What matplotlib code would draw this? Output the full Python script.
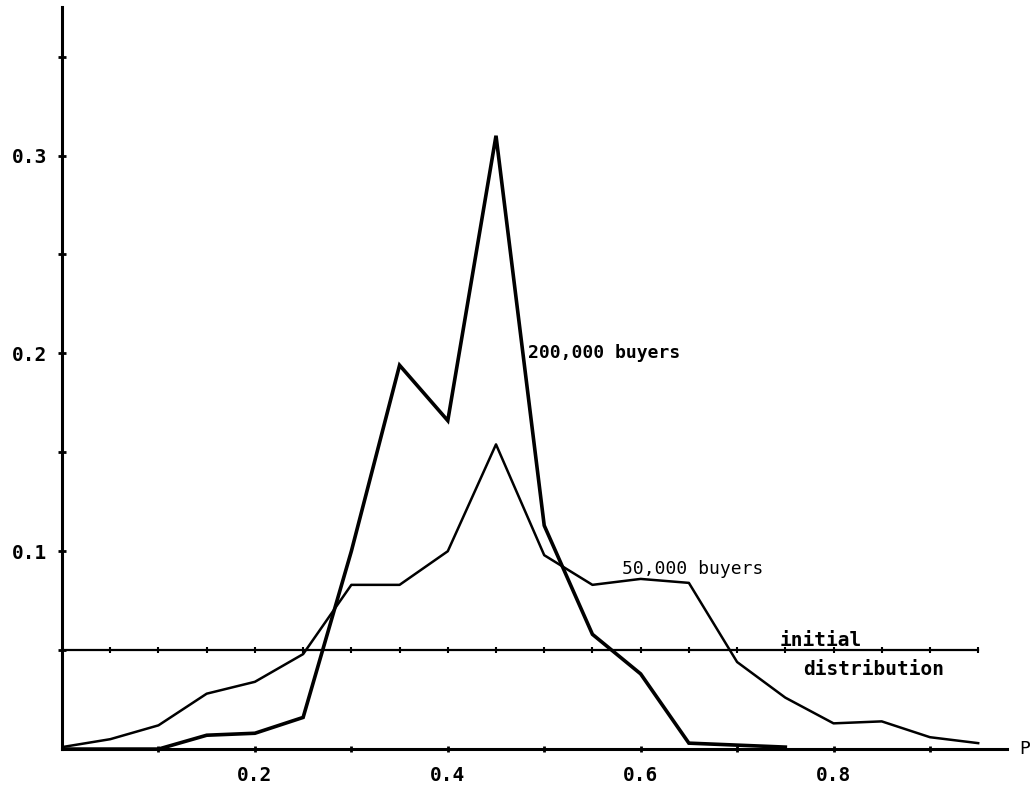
import matplotlib.pyplot as plt

# proportion of buyers p (grid of 0.05)
p_50k = [0.0, 0.05, 0.1, 0.15, 0.2, 0.25, 0.3, 0.35, 0.4, 0.45,
         0.5, 0.55, 0.6, 0.65, 0.7, 0.75, 0.8, 0.85, 0.9, 0.95]
buyers_50k = [0.001, 0.005, 0.012, 0.028, 0.034, 0.048, 0.083, 0.083, 0.100, 0.154,
              0.098, 0.083, 0.086, 0.084, 0.044, 0.026, 0.013, 0.014, 0.006, 0.003]

p_200k = [0.0, 0.05, 0.1, 0.15, 0.2, 0.25, 0.3, 0.35, 0.4, 0.45,
          0.5, 0.55, 0.6, 0.65, 0.7, 0.75]
buyers_200k = [0.0, 0.0, 0.0, 0.007, 0.008, 0.016, 0.100, 0.194, 0.166, 0.310,
               0.113, 0.058, 0.038, 0.003, 0.002, 0.001]

p_initial = p_50k
initial = [0.05, 0.05, 0.05, 0.05, 0.05, 0.05, 0.05, 0.05, 0.05, 0.05,
           0.05, 0.05, 0.05, 0.05, 0.05, 0.05, 0.05, 0.05, 0.05, 0.05]

x_ticks = [0.1, 0.2, 0.3, 0.4, 0.5, 0.6, 0.7, 0.8, 0.9]
x_tick_labels = ["", "0.2", "", "0.4", "", "0.6", "", "0.8", ""]
y_ticks = [0.05, 0.1, 0.15, 0.2, 0.25, 0.3, 0.35]
y_tick_labels = ["", "0.1", "", "0.2", "", "0.3", ""]

font = "DejaVu Sans Mono"

fig = plt.figure(figsize=(10.34, 7.91), dpi=100)
ax = fig.add_axes([0.06, 0.053, 0.914, 0.938])

ax.plot(p_200k, buyers_200k, color="black", lw=2.6, solid_joinstyle="miter")
ax.plot(p_50k, buyers_50k, color="black", lw=1.8)
ax.plot(p_initial, initial, color="black", lw=1.6, marker="|", ms=4, mew=1.5)

ax.set_xlim(0, 0.98)
ax.set_ylim(0, 0.375)

for side in ["top", "right"]:
    ax.spines[side].set_visible(False)
ax.spines["left"].set_linewidth(2.2)
ax.spines["bottom"].set_linewidth(2.2)

ax.set_xticks(x_ticks)
ax.set_xticklabels(x_tick_labels, fontfamily=font, fontsize=14, fontweight="bold")
ax.set_yticks(y_ticks)
ax.set_yticklabels(y_tick_labels, fontfamily=font, fontsize=14, fontweight="bold")
ax.tick_params(axis="x", direction="inout", length=5, width=2, pad=10)
ax.tick_params(axis="y", direction="inout", length=6, width=2, pad=8)

ax.text(0.483, 0.200, "200,000 buyers", fontfamily=font, fontsize=13,
        fontweight="bold", va="center", ha="left")
ax.text(0.581, 0.091, "50,000 buyers", fontfamily=font, fontsize=13,
        va="center", ha="left")
ax.text(0.744, 0.055, "initial", fontfamily=font, fontsize=14,
        fontweight="bold", va="center", ha="left")
ax.text(0.768, 0.040, "distribution", fontfamily=font, fontsize=14,
        fontweight="bold", va="center", ha="left")
ax.text(0.993, 0.0, "P", fontfamily=font, fontsize=13, va="center",
        ha="left", clip_on=False)

fig.savefig("out.png", dpi=100)
